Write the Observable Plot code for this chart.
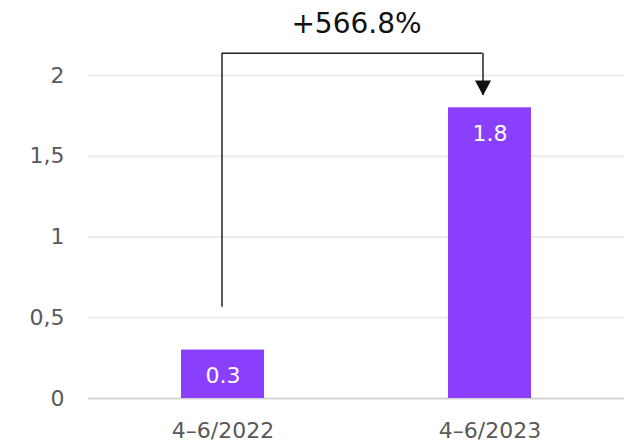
<!DOCTYPE html>
<html><head><meta charset="utf-8">
<script src="https://cdn.jsdelivr.net/npm/d3@7"></script>
<script src="https://cdn.jsdelivr.net/npm/@observablehq/plot@0.6"></script>
<style>body{margin:0;background:#fff} svg{display:block}</style>
</head><body><div id="chart"></div>
<script>
const periods = ["4–6/2022", "4–6/2023"];
const values = [0.3, 1.8];
const valueLabels = ["0.3", "1.8"];
const yTicks = [0, 0.5, 1, 1.5, 2];
const yTickLabels = ["0", "0,5", "1", "1,5", "2"];
const changeLabel = "+566.8%";

const data = periods.map((p, i) => ({period: p, value: values[i], label: valueLabels[i]}));

// bracket levels (data units)
const bracketStart = 0.565, bracketTop = 2.138, arrowTip = 1.876;

const downTriangle = {draw(ctx) { ctx.moveTo(-8, -15); ctx.lineTo(8, -15); ctx.lineTo(0, 0); ctx.closePath(); }};

const chart = Plot.plot({
  width: 631, height: 444,
  marginLeft: 88, marginRight: 7, marginTop: 75, marginBottom: 46,
  style: {fontFamily: "DejaVu Sans", fontSize: "22px", color: "#595959", background: "#fff"},
  x: {domain: periods, paddingInner: 0.6876, paddingOuter: 0.344, label: null, tickSize: 0, tickPadding: 24},
  y: {domain: [0, 2], ticks: yTicks, tickFormat: d => yTickLabels[yTicks.indexOf(d)], label: null, tickSize: 0, tickPadding: 24},
  marks: [
    Plot.ruleY(yTicks, {stroke: "#ececec", strokeWidth: 2}),
    Plot.ruleY([0], {stroke: "#d0d0d0", strokeWidth: 1.5}),
    Plot.barY(data, {x: "period", y: "value", fill: "#8a3ffc"}),
    Plot.text(data, {x: "period", y: "value", text: "label", fill: "white", dy: 26, fontSize: 22}),
    Plot.ruleX([periods[0]], {y1: bracketStart, y2: bracketTop, dx: -1, stroke: "#222", strokeWidth: 1.5}),
    Plot.ruleY([bracketTop], {x1: () => periods[0], x2: () => periods[1], insetLeft: 41, insetRight: 49, stroke: "#222", strokeWidth: 1.5}),
    Plot.ruleX([periods[1]], {y1: bracketTop, y2: arrowTip, dx: -7, stroke: "#222", strokeWidth: 1.5}),
    Plot.dot([periods[1]], {x: d => d, y: () => arrowTip, symbol: downTriangle, r: 5, fill: "#111", stroke: "none", dx: -7}),
    Plot.text([changeLabel], {text: d => d, frameAnchor: "top", lineAnchor: "middle", dy: -51, fontSize: 28, fill: "#111"})
  ]
});
document.getElementById("chart").appendChild(chart);
</script>
</body></html>
